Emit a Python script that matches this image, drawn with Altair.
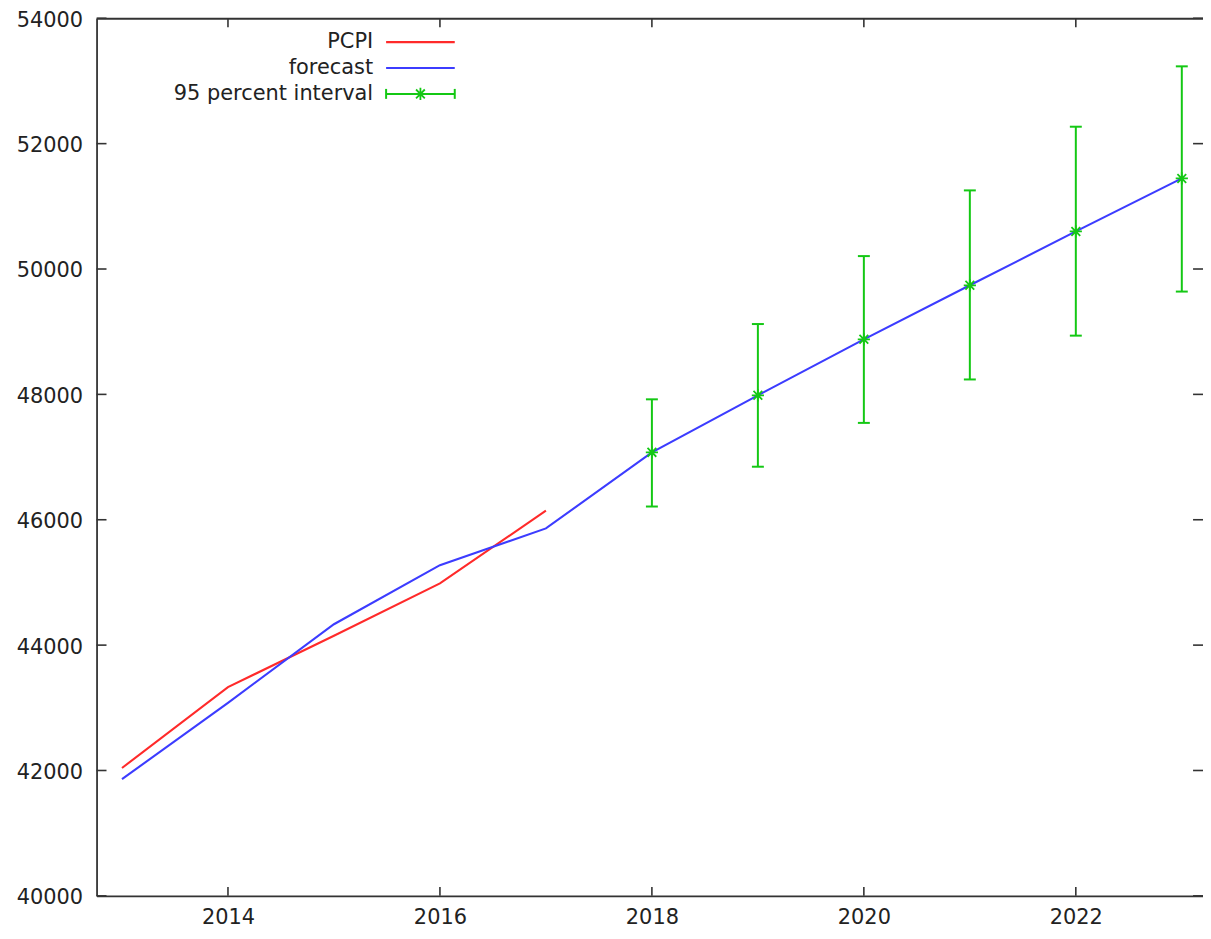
import altair as alt
import pandas as pd

# ---------------- data ----------------
pcpi_years = [2013, 2014, 2015, 2016, 2017]
pcpi_values = [42040, 43330, 44150, 44985, 46145]

forecast_years = [2013, 2014, 2015, 2016, 2017, 2018, 2019, 2020, 2021, 2022, 2023]
forecast_values = [41862, 43079, 44333, 45275, 45862, 47075, 47985, 48878, 49740, 50600, 51445]

ci_years = [2018, 2019, 2020, 2021, 2022, 2023]
ci_mid = [47075, 47985, 48878, 49740, 50600, 51445]
ci_low = [46211, 46846, 47545, 48238, 48937, 49640]
ci_high = [47921, 49122, 50206, 51254, 52270, 53233]

x_ticks = [2014, 2016, 2018, 2020, 2022]
y_ticks = [40000, 42000, 44000, 46000, 48000, 50000, 52000, 54000]

legend_labels = ["PCPI", "forecast", "95 percent interval"]

X_MIN, X_MAX = 2012.76, 2023.20
Y_MIN, Y_MAX = 40000, 54000

RED = "#ff2a2a"
BLUE = "#3c3cff"
GREEN = "#14c814"
INK = "#222222"
FRAME = "#333333"
FONT = "DejaVu Sans"
FS = 21

STAR = "M-1,0L1,0M0,-1L0,1M-0.72,-0.72L0.72,0.72M-0.72,0.72L0.72,-0.72"

# ---------------- tables ----------------
pcpi_df = pd.DataFrame({"year": pcpi_years, "value": pcpi_values})
fc_df = pd.DataFrame({"year": forecast_years, "value": forecast_values})
ci_df = pd.DataFrame({"year": ci_years, "mid": ci_mid, "lo": ci_low, "hi": ci_high})
xt_df = pd.DataFrame({"year": x_ticks, "bottom": [Y_MIN] * len(x_ticks), "top": [Y_MAX] * len(x_ticks)})
yt_df = pd.DataFrame({"value": y_ticks, "left": [X_MIN] * len(y_ticks), "right": [X_MAX] * len(y_ticks)})

xscale = alt.Scale(domain=[X_MIN, X_MAX], nice=False, zero=False)
yscale = alt.Scale(domain=[Y_MIN, Y_MAX], nice=False, zero=False)

x_bottom_axis = alt.Axis(orient="bottom", values=x_ticks, format="d", ticks=False, labelPadding=11,
                         domain=True, grid=False, title=None, labelFlush=False,
                         labelOverlap=False)
y_left_axis = alt.Axis(orient="left", values=y_ticks, format="d", ticks=False, labelPadding=14,
                       labelOffset=2,
                       domain=True, grid=False, title=None, labelFlush=False,
                       labelOverlap=False)
x_top_axis = alt.Axis(orient="top", labels=False, ticks=False, domain=True,
                      grid=False, title=None)

LW = 2.1

# ---------------- data layers ----------------
pcpi_line = alt.Chart(pcpi_df).mark_line(color=RED, strokeWidth=LW).encode(
    x=alt.X("year:Q", scale=xscale, axis=x_bottom_axis),
    y=alt.Y("value:Q", scale=yscale, axis=y_left_axis),
)

fc_line = alt.Chart(fc_df).mark_line(color=BLUE, strokeWidth=LW).encode(
    x=alt.X("year:Q", scale=xscale, axis=None),
    y=alt.Y("value:Q", scale=yscale, axis=None),
)

ci_rule = alt.Chart(ci_df).mark_rule(color=GREEN, strokeWidth=2).encode(
    x=alt.X("year:Q", scale=xscale, axis=None),
    y=alt.Y("lo:Q", scale=yscale, axis=None),
    y2="hi:Q",
)
ci_cap_hi = alt.Chart(ci_df).mark_tick(color=GREEN, orient="horizontal", size=12,
                                        thickness=2, opacity=1).encode(
    x=alt.X("year:Q", scale=xscale, axis=None),
    y=alt.Y("hi:Q", scale=yscale, axis=None),
)
ci_cap_lo = alt.Chart(ci_df).mark_tick(color=GREEN, orient="horizontal", size=12,
                                        thickness=2, opacity=1).encode(
    x=alt.X("year:Q", scale=xscale, axis=None),
    y=alt.Y("lo:Q", scale=yscale, axis=None),
)
ci_star = alt.Chart(ci_df).mark_point(shape=STAR, filled=False, size=150, color=GREEN,
                                       strokeWidth=1.8, opacity=1).encode(
    x=alt.X("year:Q", scale=xscale, axis=None),
    y=alt.Y("mid:Q", scale=yscale, axis=None),
)

# ---------------- frame ticks (inward, gnuplot style) ----------------
tick_style = dict(color=FRAME, thickness=1.6, opacity=1)
bottom_ticks = alt.Chart(xt_df).mark_tick(orient="vertical", size=9, yOffset=-4.5, **tick_style).encode(
    x=alt.X("year:Q", scale=xscale, axis=None),
    y=alt.Y("bottom:Q", scale=yscale, axis=None),
)
top_ticks = alt.Chart(xt_df).mark_tick(orient="vertical", size=9, yOffset=4.5, **tick_style).encode(
    x=alt.X("year:Q", scale=xscale, axis=x_top_axis),
    y=alt.Y("top:Q", scale=yscale, axis=None),
)
left_ticks = alt.Chart(yt_df).mark_tick(orient="horizontal", size=10, xOffset=5, **tick_style).encode(
    x=alt.X("left:Q", scale=xscale, axis=None),
    y=alt.Y("value:Q", scale=yscale, axis=None),
)
right_ticks = alt.Chart(yt_df).mark_tick(orient="horizontal", size=10, xOffset=-5, **tick_style).encode(
    x=alt.X("right:Q", scale=xscale, axis=None),
    y=alt.Y("value:Q", scale=yscale, axis=None),
)

# ---------------- legend (gnuplot key: text left, sample right) ----------------
row_y = [24, 50, 76]
text_x = 278
s0, s1 = 291, 360
legend_layers = []
for i, lab in enumerate(legend_labels):
    legend_layers.append(
        alt.Chart(pd.DataFrame({"label": [lab]})).mark_text(
            align="right", baseline="middle", font=FONT, fontSize=FS, color=INK
        ).encode(x=alt.value(text_x), y=alt.value(row_y[i]), text="label:N")
    )
one = pd.DataFrame({"k": [0]})
legend_layers.append(alt.Chart(one).mark_rule(color=RED, strokeWidth=LW).encode(
    x=alt.value(s0), x2=alt.value(s1), y=alt.value(row_y[0])))
legend_layers.append(alt.Chart(one).mark_rule(color=BLUE, strokeWidth=LW).encode(
    x=alt.value(s0), x2=alt.value(s1), y=alt.value(row_y[1])))
legend_layers.append(alt.Chart(one).mark_rule(color=GREEN, strokeWidth=2).encode(
    x=alt.value(s0), x2=alt.value(s1), y=alt.value(row_y[2])))
for cx in (s0, s1):
    legend_layers.append(alt.Chart(one).mark_rule(color=GREEN, strokeWidth=2).encode(
        x=alt.value(cx), y=alt.value(row_y[2] - 5), y2=alt.value(row_y[2] + 5)))
legend_layers.append(alt.Chart(one).mark_point(shape=STAR, filled=False, size=150, color=GREEN,
                                               strokeWidth=1.8, opacity=1).encode(
    x=alt.value((s0 + s1) / 2), y=alt.value(row_y[2])))

chart = alt.layer(
    pcpi_line, fc_line, ci_rule, ci_cap_hi, ci_cap_lo, ci_star,
    bottom_ticks, top_ticks, left_ticks, right_ticks,
    *legend_layers,
).resolve_axis(
    x="independent", y="independent",
).properties(
    width=1112,
    height=882,
    autosize=alt.AutoSizeParams(type="none"),
    padding={"left": 89, "top": 8, "right": 0, "bottom": 33},
    background="white",
).configure_view(
    stroke=None,
).configure_axis(
    labelFont=FONT,
    labelFontSize=FS,
    labelColor=INK,
    domainColor=FRAME,
    domainWidth=1.8,
)

chart.save("out.html", embed_options={"renderer": "svg", "actions": False})
